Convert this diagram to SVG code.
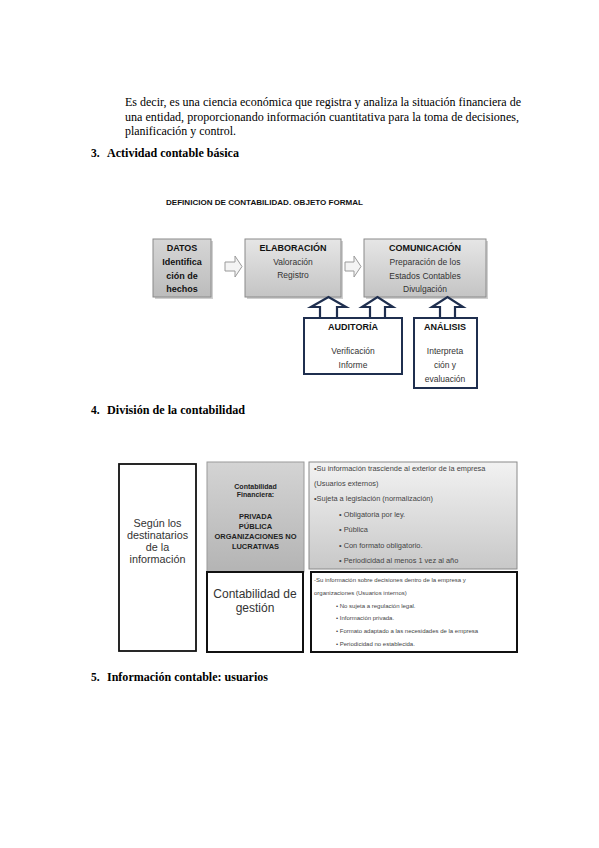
<svg xmlns="http://www.w3.org/2000/svg" width="599" height="848" viewBox="0 0 599 848">
<defs>
<linearGradient id="gbox" x1="0" y1="0" x2="0" y2="1">
<stop offset="0" stop-color="#e6e6e6"/>
<stop offset="1" stop-color="#c4c4c4"/>
</linearGradient>
<linearGradient id="gdatos" x1="0" y1="0" x2="0" y2="1">
<stop offset="0" stop-color="#d6d6d6"/>
<stop offset="1" stop-color="#bcbcbc"/>
</linearGradient>
<linearGradient id="gfin" x1="0" y1="0" x2="0" y2="1">
<stop offset="0" stop-color="#d4d4d4"/>
<stop offset="1" stop-color="#b4b4b4"/>
</linearGradient>
<linearGradient id="gright" x1="0" y1="0" x2="0" y2="1">
<stop offset="0" stop-color="#f2f2f2"/>
<stop offset="1" stop-color="#c8c8c8"/>
</linearGradient>
<style>
.body{font-family:"Liberation Serif","Times New Roman",serif;font-size:11.5px;fill:#000}
.head{font-family:"Liberation Serif","Times New Roman",serif;font-size:11.5px;font-weight:bold;fill:#000}
.fb{font-family:"Liberation Sans",Arial,sans-serif;font-size:9px;font-weight:bold;fill:#111;text-anchor:middle}
.fn{font-family:"Liberation Sans",Arial,sans-serif;font-size:8.5px;fill:#333;text-anchor:middle}
.box{stroke:#8a8a8a;stroke-width:1}
.shadow{fill:#d0d0d0}
.rarrow{fill:#f4f4f4;stroke:#9a9a9a;stroke-width:1}
.uarrow{fill:#fff;stroke:#1f2f4f;stroke-width:2.2;stroke-linejoin:miter}
.nbox{fill:#fff;stroke:#1f2f4f;stroke-width:2}
.s7b{font-family:"Liberation Sans",Arial,sans-serif;font-size:7px;font-weight:bold;fill:#222;text-anchor:middle}
.s75b{font-family:"Liberation Sans",Arial,sans-serif;font-size:7.5px;font-weight:bold;fill:#222;text-anchor:middle}
.big{font-family:"Liberation Sans",Arial,sans-serif;font-size:10.8px;fill:#333;text-anchor:middle}
.big12{font-family:"Liberation Sans",Arial,sans-serif;font-size:12px;fill:#333;text-anchor:middle}
.sm{font-family:"Liberation Sans",Arial,sans-serif;font-size:7.4px;fill:#444}
.xs{font-family:"Liberation Sans",Arial,sans-serif;font-size:6px;fill:#444}
</style>
</defs>
<rect width="599" height="848" fill="#fff"/>

<!-- body text -->
<text class="body" x="125" y="106" textLength="396" lengthAdjust="spacingAndGlyphs">Es decir, es una ciencia económica que registra y analiza la situación financiera de</text>
<text class="body" x="125" y="121" textLength="394" lengthAdjust="spacingAndGlyphs">una entidad, proporcionando información cuantitativa para la toma de decisiones,</text>
<text class="body" x="125" y="135" textLength="111" lengthAdjust="spacingAndGlyphs">planificación y control.</text>
<text class="head" x="91" y="157">3.</text>
<text class="head" x="107" y="157" textLength="132" lengthAdjust="spacingAndGlyphs">Actividad contable básica</text>
<text class="head" x="91" y="414">4.</text>
<text class="head" x="107" y="414" textLength="138" lengthAdjust="spacingAndGlyphs">División de la contabilidad</text>
<text class="head" x="91" y="681">5.</text>
<text class="head" x="107" y="681" textLength="161" lengthAdjust="spacingAndGlyphs">Información contable: usuarios</text>

<!-- Diagram 1 -->
<text x="166" y="205" font-family="'Liberation Sans',Arial,sans-serif" font-size="7.2" font-weight="bold" fill="#111" textLength="197" lengthAdjust="spacingAndGlyphs">DEFINICION DE CONTABILIDAD. OBJETO FORMAL</text>

<g id="datos">
<rect class="shadow" x="155" y="241" width="58" height="58"/>
<rect class="box" x="153" y="239" width="58" height="58" fill="url(#gdatos)"/>
<text class="fb" x="182" y="251">DATOS</text>
<text class="fb" x="182" y="265">Identifica</text>
<text class="fb" x="182" y="279">ción de</text>
<text class="fb" x="182" y="292">hechos</text>
</g>
<g id="elaboracion">
<rect class="shadow" x="247" y="241" width="96" height="58"/>
<rect class="box" x="245" y="239" width="96" height="58" fill="url(#gbox)"/>
<text class="fb" x="293" y="251">ELABORACIÓN</text>
<text class="fn" x="293" y="265">Valoración</text>
<text class="fn" x="293" y="278">Registro</text>
</g>
<g id="comunicacion">
<rect class="shadow" x="366" y="241" width="122" height="58"/>
<rect class="box" x="364" y="239" width="122" height="58" fill="url(#gbox)"/>
<text class="fb" x="425" y="251">COMUNICACIÓN</text>
<text class="fn" x="425" y="265">Preparación de los</text>
<text class="fn" x="425" y="279">Estados Contables</text>
<text class="fn" x="425" y="292">Divulgación</text>
</g>
<g id="auditoria">
<rect class="nbox" x="304" y="318" width="98" height="56"/>
<text class="fb" x="353" y="330">AUDITORÍA</text>
<text class="fn" x="353" y="354">Verificación</text>
<text class="fn" x="353" y="368">Informe</text>
</g>
<g id="analisis">
<rect class="nbox" x="414" y="318" width="63" height="70"/>
<text class="fb" x="445" y="330">ANÁLISIS</text>
<text class="fn" x="445" y="354">Interpreta</text>
<text class="fn" x="445" y="368">ción y</text>
<text class="fn" x="445" y="382">evaluación</text>
</g>

<g id="connectors">
<path class="rarrow" d="M225,262 H235 V256 L242,266.5 L235,277 V271 H225 Z"/>
<path class="rarrow" d="M345,262 H354 V256 L361,266.5 L354,277 V271 H345 Z"/>
<path class="uarrow" d="M320,317 V307 H311 L328.5,297 L346,307 H337 V317"/>
<path class="uarrow" d="M370,317 V307 H362 L377.5,297 L393,307 H385 V317"/>
<path class="uarrow" d="M440,317 V307 H432 L447.5,297 L463,307 H455 V317"/>
</g>

<!-- Diagram 2 -->
<g id="segun">
<rect x="119" y="464" width="77" height="187" fill="#fff" stroke="#111" stroke-width="1.8"/>
<text class="big" x="157.5" y="527">Según los</text>
<text class="big" x="157.5" y="539">destinatarios</text>
<text class="big" x="157.5" y="551">de la</text>
<text class="big" x="157.5" y="563">información</text>
</g>
<g id="financiera">
<rect x="207" y="462" width="97" height="110" fill="url(#gfin)" stroke="#9a9a9a" stroke-width="1"/>
<text class="s7b" x="255.5" y="489">Contabilidad</text>
<text class="s7b" x="255.5" y="497">Financiera:</text>
<text class="s75b" x="255.5" y="519">PRIVADA</text>
<text class="s75b" x="255.5" y="529">PÚBLICA</text>
<text class="s75b" x="255.5" y="539">ORGANIZACIONES NO</text>
<text class="s75b" x="255.5" y="549">LUCRATIVAS</text>
</g>
<g id="gestion">
<rect x="207" y="572" width="96" height="80" fill="#fff" stroke="#111" stroke-width="2"/>
<text class="big12" x="255" y="598">Contabilidad de</text>
<text class="big12" x="255" y="612">gestión</text>
</g>
<g id="externos">
<rect x="309" y="462" width="208" height="107" fill="url(#gright)" stroke="#8a8a8a" stroke-width="1"/>
<text class="sm" x="314" y="471">•Su información trasciende al exterior de la empresa</text>
<text class="sm" x="314" y="486">(Usuarios externos)</text>
<text class="sm" x="314" y="501">•Sujeta a legislación (normalización)</text>
<text class="sm" x="339" y="517">• Obligatoria por ley.</text>
<text class="sm" x="339" y="532">• Pública</text>
<text class="sm" x="339" y="548">• Con formato obligatorio.</text>
<text class="sm" x="339" y="563">• Periodicidad al menos 1 vez al año</text>
</g>
<g id="internos">
<rect x="311" y="572" width="206" height="80" fill="#fff" stroke="#111" stroke-width="2"/>
<text class="xs" x="314" y="582">-Su información sobre decisiones dentro de la empresa y</text>
<text class="xs" x="314" y="595">organizaciones (Usuarios internos)</text>
<text class="xs" x="336" y="608">• No sujeta a regulación legal.</text>
<text class="xs" x="336" y="620">• Información privada.</text>
<text class="xs" x="336" y="633">• Formato adaptado a las necesidades de la empresa</text>
<text class="xs" x="336" y="646">• Periodicidad no establecida.</text>
</g>
</svg>
